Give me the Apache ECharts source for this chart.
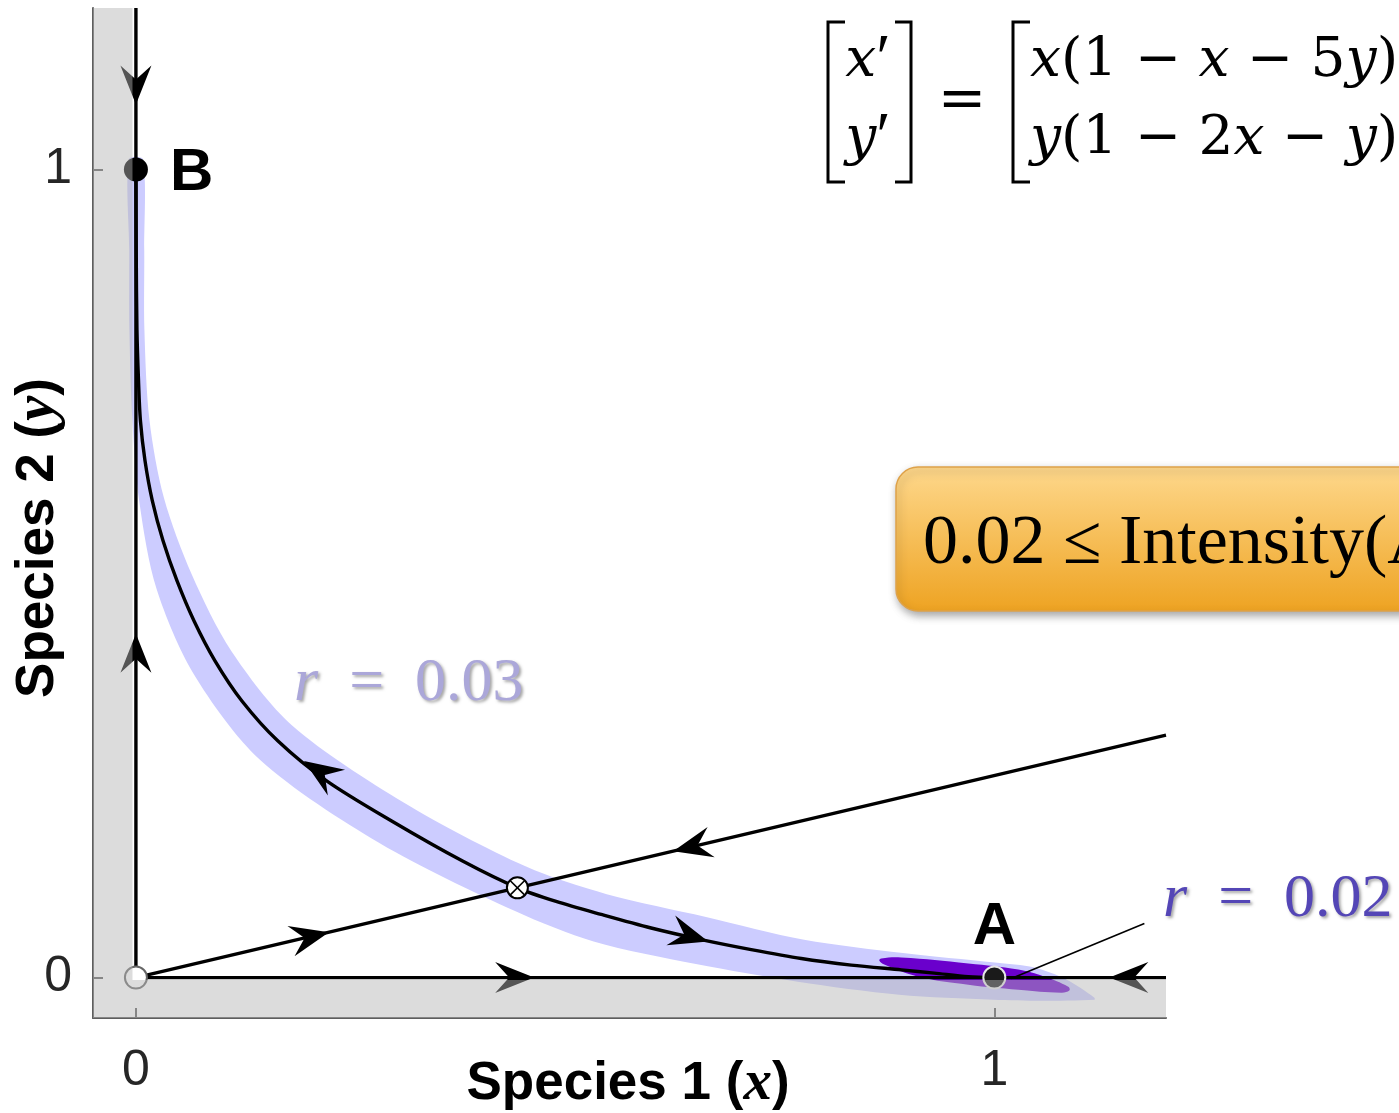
<!DOCTYPE html>
<html>
<head>
<meta charset="utf-8">
<script src="https://cdn.jsdelivr.net/npm/echarts@6/dist/echarts.min.js"></script>
<style>
  html, body { margin: 0; padding: 0; background: #ffffff; }
  #chart { width: 1399px; height: 1113px; }
</style>
</head>
<body>
<div id="chart"></div>
<script>
// Phase plane of the competition model x' = x(1 - x - 5y), y' = y(1 - 2x - y)

// axis ranges and tick values
const axisMin = -0.05;
const axisMax = 1.2;
const tickValues = [0, 1];

// unstable manifold of the saddle: from B (0,1) down to A (1,0)
const manifoldX = [0, 0.00035, 0.0012, 0.0030, 0.0052, 0.0105, 0.0190, 0.0315, 0.0478, 0.0676, 0.0921, 0.1235, 0.1655, 0.2226, 0.2984, 0.3811, 0.4444, 0.4895, 0.5420, 0.6002, 0.6585, 0.7168, 0.7751, 0.8333, 0.8916, 0.9301, 0.9697, 1.0000];
const manifoldY = [1.0000, 0.9007, 0.8015, 0.7395, 0.6898, 0.6402, 0.5906, 0.5409, 0.4913, 0.4417, 0.3921, 0.3424, 0.2928, 0.2432, 0.1935, 0.1439, 0.1111, 0.0943, 0.0782, 0.0614, 0.0471, 0.0347, 0.0236, 0.0155, 0.0096, 0.0056, 0.0012, 0];

// stable manifold of the saddle (straight line y = x/4)
const stableX = [0, 1.2];
const stableY = [0, 0.3];

// invariant coordinate axes
const verticalAxisX = [0, 0];
const verticalAxisY = [0, 1.2];
const horizontalAxisX = [0, 1.2];
const horizontalAxisY = [0, 0];

// r = 0.03 tube around the manifold: outer edge (B -> A) then inner edge (A -> B)
const tubeOuterX = [0.0082, 0.0097, 0.0099, 0.0157, 0.0326, 0.0652, 0.1111, 0.1823, 0.3114, 0.4538, 0.5485, 0.6641, 0.7784, 0.8935, 1.0007, 1.0466, 1.0839, 1.1166];
const tubeOuterY = [1.0124, 0.9007, 0.8015, 0.6907, 0.5938, 0.4985, 0.4042, 0.3118, 0.2171, 0.1377, 0.1032, 0.0751, 0.0469, 0.0305, 0.0186, 0.0124, -0.0025, -0.0248];
const tubeInnerX = [1.1166, 1.0548, 0.9989, 0.8892, 0.7710, 0.6524, 0.5332, 0.4423, 0.2836, 0.1448, 0.0671, 0.0239, 0.0042, -0.0041, -0.0076, -0.0078, -0.0082];
const tubeInnerY = [-0.0273, -0.0285, -0.0273, -0.0211, -0.0050, 0.0167, 0.0447, 0.0820, 0.1667, 0.2694, 0.3761, 0.4815, 0.5870, 0.6891, 0.8015, 0.9007, 1.0124];

// r = 0.02 region around A
const regionX = [0.8683, 0.8916, 0.9697, 1.0280, 1.0583, 1.0862, 1.0874, 1.0781, 1.0280, 0.9697, 0.9114, 0.8718, 0.8660];
const regionY = [0.0236, 0.0248, 0.0174, 0.0099, 0.0012, -0.0112, -0.0161, -0.0186, -0.0149, -0.0087, 0.0012, 0.0161, 0.0211];

// direction arrows: tip and a point behind the tip along the trajectory
const arrowTipX  = [0, 0, 0.4639, 1.1340, 0.2249, 0.6259, 0.1958, 0.6667];
const arrowTipY  = [1.0806, 0.4256, 0, 0, 0.0562, 0.1565, 0.2680, 0.0447];
const arrowTailX = [0, 0, 0.4219, 1.1737, 0.1900, 0.6650, 0.2308, 0.6270];
const arrowTailY = [1.1216, 0.3797, 0, 0, 0.0475, 0.1663, 0.2432, 0.0571];

// equilibria
const stableNodeX = [0, 1];
const stableNodeY = [1, 0];
const stableNodeNames = ['B', 'A'];
const originX = [0];
const originY = [0];
const saddleX = [0.4444];
const saddleY = [0.1111];

// leader from the r = 0.02 label to its region
const leaderX = [1.1748, 1.0198];
const leaderY = [0.0670, -0.0012];

// edge of the shaded strips along both axes
const shadeEdgeX = -0.004;
const shadeEdgeY = -0.003;

const zip = (xs, ys) => xs.map((x, i) => [x, ys[i]]);

function polygonSeries(points, fill, z, smooth) {
  return {
    type: 'custom', z: z, silent: true, clip: true,
    data: [points[0]],
    renderItem: function (params, api) {
      return {
        type: 'polygon',
        shape: { points: points.map(p => api.coord(p)), smooth: smooth || 0 },
        style: { fill: fill }
      };
    }
  };
}

function lineSeries(xs, ys, z, smooth) {
  return {
    type: 'line', z: z, silent: true, showSymbol: false, smooth: smooth || false,
    data: zip(xs, ys),
    lineStyle: { color: '#000', width: 3.4 },
    clip: true
  };
}

const tubePolygon = zip(tubeOuterX, tubeOuterY).concat(zip(tubeInnerX, tubeInnerY));
const regionPolygon = zip(regionX, regionY);
const shadePolygon = [
  [axisMin, axisMin], [axisMax, axisMin], [axisMax, shadeEdgeY],
  [shadeEdgeX, shadeEdgeY], [shadeEdgeX, axisMax], [axisMin, axisMax]
];

const arrowData = arrowTipX.map((x, i) => [x, arrowTipY[i], arrowTailX[i], arrowTailY[i]]);

const chart = echarts.init(document.getElementById('chart'), null, { renderer: 'canvas' });

const serifFamily = '"Liberation Serif", "DejaVu Serif", serif';
const mathFamily = '"DejaVu Serif", "Liberation Serif", serif';
const sansFamily = '"Liberation Sans", Arial, sans-serif';

const mathRich = {
  i: { fontFamily: mathFamily, fontStyle: 'italic', fontSize: 55, fill: '#000' },
  n: { fontFamily: mathFamily, fontSize: 55, fill: '#000' },
  p: { fontFamily: serifFamily, fontSize: 66, fill: '#000' }
};

chart.setOption({
  animation: false,
  backgroundColor: '#ffffff',
  grid: { left: 93, right: 233, top: 8, bottom: 95, containLabel: false },
  xAxis: {
    type: 'value', min: axisMin, max: axisMax,
    splitLine: { show: false },
    axisLine: { show: true, onZero: false, lineStyle: { color: '#5e5e5e', width: 2 } },
    axisTick: { show: true, inside: true, length: 10, customValues: tickValues, lineStyle: { color: '#5e5e5e', width: 2 } },
    axisLabel: { customValues: tickValues, margin: 28, color: '#262626', fontSize: 50, fontFamily: sansFamily }
  },
  yAxis: {
    type: 'value', min: axisMin, max: axisMax,
    splitLine: { show: false },
    axisLine: { show: true, onZero: false, lineStyle: { color: '#5e5e5e', width: 2 } },
    axisTick: { show: true, inside: true, length: 10, customValues: tickValues, lineStyle: { color: '#5e5e5e', width: 2 } },
    axisLabel: { customValues: tickValues, margin: 21, color: '#262626', fontSize: 50, fontFamily: sansFamily }
  },
  series: [
    polygonSeries(tubePolygon, '#ccccff', 1, 0.3),
    polygonSeries(regionPolygon, '#6a00cc', 2, 0.4),
    lineSeries(verticalAxisX, verticalAxisY, 3),
    lineSeries(horizontalAxisX, horizontalAxisY, 3),
    lineSeries(stableX, stableY, 3),
    lineSeries(manifoldX, manifoldY, 3, 0.3),
    {
      type: 'custom', z: 3, silent: true,
      data: [[leaderX[0], leaderY[0], leaderX[1], leaderY[1]]],
      encode: { x: [0, 2], y: [1, 3] },
      renderItem: function (params, api) {
        const a = api.coord([api.value(0), api.value(1)]);
        const b = api.coord([api.value(2), api.value(3)]);
        return { type: 'line', shape: { x1: a[0], y1: a[1], x2: b[0], y2: b[1] }, style: { stroke: '#000', lineWidth: 1.6 } };
      }
    },
    {
      // arrowheads showing the flow direction
      type: 'custom', z: 4, silent: true,
      data: arrowData,
      encode: { x: [0, 2], y: [1, 3] },
      renderItem: function (params, api) {
        const tip = api.coord([api.value(0), api.value(1)]);
        const tail = api.coord([api.value(2), api.value(3)]);
        let dx = tip[0] - tail[0], dy = tip[1] - tail[1];
        const len = Math.hypot(dx, dy);
        dx /= len; dy /= len;
        const nx = -dy, ny = dx;
        const L = 39, W = 31, N = 14;
        const bx = tip[0] - L * dx, by = tip[1] - L * dy;
        return {
          type: 'polygon',
          shape: { points: [
            tip,
            [bx + nx * W / 2, by + ny * W / 2],
            [tip[0] - (L - N) * dx, tip[1] - (L - N) * dy],
            [bx - nx * W / 2, by - ny * W / 2]
          ] },
          style: { fill: '#000' }
        };
      }
    },
    {
      type: 'scatter', z: 5, silent: true,
      data: stableNodeX.map((x, i) => ({
        value: [x, stableNodeY[i]],
        name: stableNodeNames[i],
        symbolSize: i === 0 ? 24 : 22,
        itemStyle: i === 0
          ? { color: '#000', opacity: 1 }
          : { color: '#1a1a1a', borderColor: '#e6e6e6', borderWidth: 2, opacity: 1 },
        label: {
          show: true, formatter: '{b}',
          position: i === 0 ? 'right' : 'top',
          distance: i === 0 ? 22 : 8,
          offset: i === 0 ? [0, 4] : [0, 0],
          color: '#000', opacity: 1, fontSize: 60, fontWeight: 'bold', fontFamily: sansFamily
        }
      }))
    },
    {
      type: 'scatter', z: 5, silent: true,
      data: zip(originX, originY),
      symbolSize: 22,
      itemStyle: { color: '#ffffff', borderColor: '#666666', borderWidth: 2, opacity: 1 }
    },
    {
      // saddle point: open circle with a cross
      type: 'custom', z: 5, silent: true,
      data: zip(saddleX, saddleY),
      renderItem: function (params, api) {
        const c = api.coord([api.value(0), api.value(1)]);
        const r = 10.5, d = r * 0.7;
        return {
          type: 'group',
          children: [
            { type: 'circle', shape: { cx: c[0], cy: c[1], r: r }, style: { fill: '#fff', stroke: '#000', lineWidth: 2 } },
            { type: 'line', shape: { x1: c[0] - d, y1: c[1] - d, x2: c[0] + d, y2: c[1] + d }, style: { stroke: '#000', lineWidth: 1.6 } },
            { type: 'line', shape: { x1: c[0] - d, y1: c[1] + d, x2: c[0] + d, y2: c[1] - d }, style: { stroke: '#000', lineWidth: 1.6 } }
          ]
        };
      }
    },
    polygonSeries(shadePolygon, 'rgba(180,180,180,0.47)', 6, 0)
  ],
  graphic: [
    // model equations
    { type: 'polyline', shape: { points: [[845, 22], [828, 22], [828, 182], [845, 182]] }, style: { stroke: '#000', lineWidth: 3, fill: null } },
    { type: 'polyline', shape: { points: [[895, 22], [911, 22], [911, 182], [895, 182]] }, style: { stroke: '#000', lineWidth: 3, fill: null } },
    { type: 'polyline', shape: { points: [[1030, 22], [1013, 22], [1013, 182], [1030, 182]] }, style: { stroke: '#000', lineWidth: 3, fill: null } },
    { type: 'text', x: 868, y: 62, style: { text: '{i|x}{p|\u2032}', align: 'center', verticalAlign: 'middle', rich: mathRich } },
    { type: 'text', x: 868, y: 140, style: { text: '{i|y}{p|\u2032}', align: 'center', verticalAlign: 'middle', rich: mathRich } },
    { type: 'text', x: 962, y: 102, style: { text: '=', align: 'center', verticalAlign: 'middle', fontFamily: mathFamily, fontSize: 58, fill: '#000' } },
    { type: 'text', x: 1030, y: 62, style: {
      text: '{i|x}{n|(1 \u2212 }{i|x}{n| \u2212 5}{i|y}{n|)}',
      align: 'left', verticalAlign: 'middle', fill: '#000', rich: mathRich } },
    { type: 'text', x: 1030, y: 140, style: {
      text: '{i|y}{n|(1 \u2212 2}{i|x}{n| \u2212 }{i|y}{n|)}',
      align: 'left', verticalAlign: 'middle', fill: '#000', rich: mathRich } },

    // intensity condition box
    { type: 'rect', shape: { x: 896, y: 467, width: 600, height: 144, r: 22 },
      style: {
        fill: { type: 'linear', x: 0, y: 0, x2: 0, y2: 1, colorStops: [ { offset: 0, color: '#fed88c' }, { offset: 1, color: '#eea322' } ] },
        stroke: '#dea24a', lineWidth: 1.5,
        shadowBlur: 8, shadowOffsetX: 2, shadowOffsetY: 4, shadowColor: 'rgba(0,0,0,0.35)'
      } },
    { type: 'text', x: 923, y: 545, style: { text: '0.02 \u2264 Intensity(A) \u2264 0.03', align: 'left', verticalAlign: 'middle', fontFamily: serifFamily, fontSize: 70, fill: '#000' } },

    // tube labels
    { type: 'text', x: 294, y: 684, style: {
      text: '{i|r}{n|\u2002=\u20020.03}', align: 'left', verticalAlign: 'middle',
      textShadowColor: 'rgba(0,0,0,0.35)', textShadowBlur: 3, textShadowOffsetX: 2, textShadowOffsetY: 2,
      rich: {
        i: { fontFamily: serifFamily, fontStyle: 'italic', fontSize: 62, fill: '#aba7d9' },
        n: { fontFamily: serifFamily, fontSize: 62, fill: '#aba7d9' }
      } } },
    { type: 'text', x: 1163, y: 900, style: {
      text: '{i|r}{n|\u2002=\u20020.02}', align: 'left', verticalAlign: 'middle',
      textShadowColor: 'rgba(0,0,0,0.35)', textShadowBlur: 3, textShadowOffsetX: 2, textShadowOffsetY: 2,
      rich: {
        i: { fontFamily: serifFamily, fontStyle: 'italic', fontSize: 62, fill: '#5446b6' },
        n: { fontFamily: serifFamily, fontSize: 62, fill: '#5446b6' }
      } } },

    // axis titles
    { type: 'text', x: 628, y: 1084, style: {
      text: '{b|Species 1 (}{m|x}{b|)}', align: 'center', verticalAlign: 'middle',
      rich: {
        b: { fontFamily: sansFamily, fontWeight: 'bold', fontSize: 53, fill: '#000' },
        m: { fontFamily: serifFamily, fontStyle: 'italic', fontWeight: 'bold', fontSize: 57, fill: '#000' }
      } } },
    { type: 'text', x: 38, y: 538, rotation: Math.PI / 2, style: {
      text: '{b|Species 2 (}{m|y}{b|)}', align: 'center', verticalAlign: 'middle',
      rich: {
        b: { fontFamily: sansFamily, fontWeight: 'bold', fontSize: 53, fill: '#000' },
        m: { fontFamily: serifFamily, fontStyle: 'italic', fontWeight: 'bold', fontSize: 57, fill: '#000' }
      } } }
  ]
});
</script>
</body>
</html>
